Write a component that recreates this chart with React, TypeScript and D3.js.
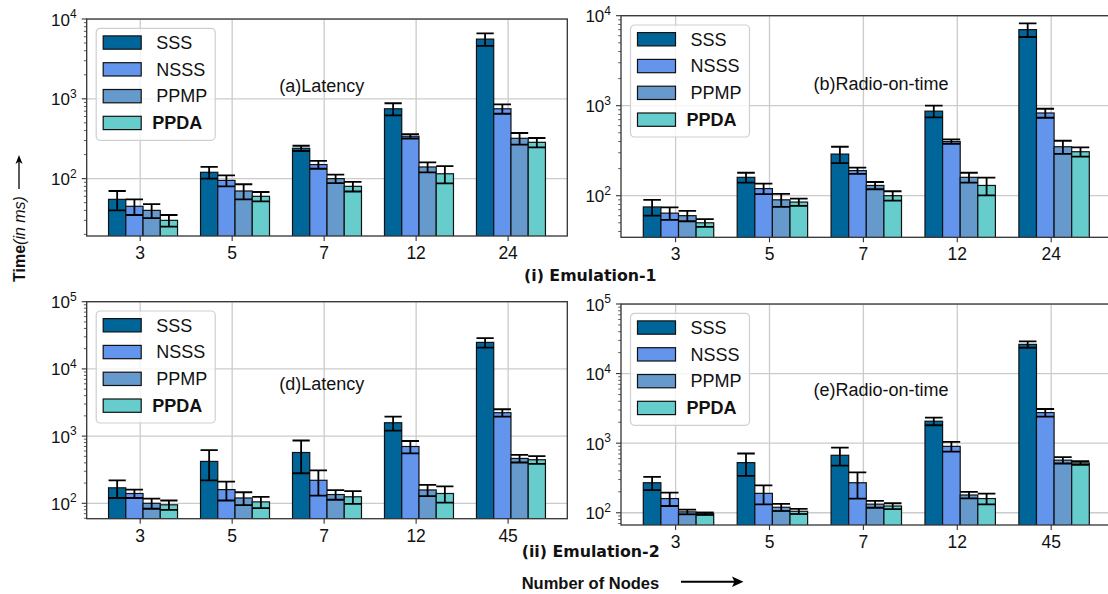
import * as d3 from 'd3';
import React, { useRef, useEffect } from 'react';

// series + colours
const seriesNames = ['SSS', 'NSSS', 'PPMP', 'PPDA'];
const seriesColors = ['#006699', '#6495ED', '#6699CC', '#66CDCC'];

// number of nodes per emulation
const nodesEmu1 = ['3', '5', '7', '12', '24'];
const nodesEmu2 = ['3', '5', '7', '12', '45'];

// (a) latency, emulation-1 (rows: SSS, NSSS, PPMP, PPDA)
const latencyEmu1 = [
    [55, 120, 240, 750, 5600],
    [45, 95, 150, 340, 750],
    [40, 70, 100, 140, 320],
    [30, 60, 80, 115, 285],
];
const latencyEmu1Err = [
    [15, 20, 18, 130, 1000],
    [10, 15, 17, 22, 100],
    [8, 15, 12, 20, 53],
    [5, 8, 11, 28, 38],
];

// (b) radio-on-time, emulation-1
const radioEmu1 = [
    [75, 160, 290, 870, 7000],
    [64, 120, 190, 400, 830],
    [60, 90, 130, 160, 350],
    [50, 85, 100, 130, 308],
];
const radioEmu1Err = [
    [15, 20, 60, 130, 1200],
    [10, 16, 15, 22, 95],
    [8, 15, 12, 20, 58],
    [5, 8, 12, 29, 36],
];

// (d) latency, emulation-2
const latencyEmu2 = [
    [170, 420, 570, 1580, 24800],
    [140, 160, 220, 700, 2230],
    [100, 120, 135, 158, 465],
    [95, 105, 125, 140, 445],
];
const latencyEmu2Err = [
    [50, 200, 290, 370, 4000],
    [20, 50, 90, 145, 280],
    [17, 26, 22, 30, 60],
    [15, 20, 27, 38, 58],
];

// (e) radio-on-time, emulation-2
const radioEmu2 = [
    [270, 525, 670, 2070, 26300],
    [160, 190, 270, 900, 2750],
    [103, 120, 133, 180, 570],
    [97, 105, 125, 160, 520],
];
const radioEmu2Err = [
    [58, 185, 195, 260, 2800],
    [35, 58, 110, 145, 350],
    [8, 14, 15, 19, 60],
    [4, 9, 12, 28, 30],
];

const W = 1108;
const H = 594;
const SANS = '"Liberation Sans", Arial, Helvetica, sans-serif';

interface Panel {
    id: string;
    title: string;
    cats: string[];
    means: number[][];
    errs: number[][];
    x0: number; x1: number;
    yTop: number; yBot: number;
    yMin: number; yMax: number;
    titleFrac: number;
}

const panels: Panel[] = [
    { id: 'a', title: '(a)Latency', cats: nodesEmu1, means: latencyEmu1, errs: latencyEmu1Err,
      x0: 86.7, x1: 567.3, yTop: 19, yBot: 236, yMin: 19.1, yMax: 1e4, titleFrac: 0.305 },
    { id: 'b', title: '(b)Radio-on-time', cats: nodesEmu1, means: radioEmu1, errs: radioEmu1Err,
      x0: 621, x1: 1111.6, yTop: 15.7, yBot: 237.3, yMin: 34.5, yMax: 1e4, titleFrac: 0.308 },
    { id: 'd', title: '(d)Latency', cats: nodesEmu2, means: latencyEmu2, errs: latencyEmu2Err,
      x0: 86.7, x1: 567.3, yTop: 301.7, yBot: 518.7, yMin: 59, yMax: 1e5, titleFrac: 0.379 },
    { id: 'e', title: '(e)Radio-on-time', cats: nodesEmu2, means: radioEmu2, errs: radioEmu2Err,
      x0: 621, x1: 1111.6, yTop: 304, yBot: 525, yMin: 66.7, yMax: 1e5, titleFrac: 0.385 },
];

const BAR_W = 0.1875;
const GROUP_OFF = -0.344;

function drawPanel(svg: d3.Selection<SVGSVGElement, unknown, null, undefined>, p: Panel) {
    const x = d3.scaleLinear().domain([-0.5815, 4.6435]).range([p.x0, p.x1]);
    const y = d3.scaleLog().domain([p.yMin, p.yMax]).range([p.yBot, p.yTop]);

    const clipId = `clip-${p.id}`;
    svg.append('clipPath').attr('id', clipId)
        .append('rect')
        .attr('x', p.x0).attr('y', p.yTop)
        .attr('width', p.x1 - p.x0).attr('height', p.yBot - p.yTop);

    const g = svg.append('g');
    const plot = g.append('g').attr('clip-path', `url(#${clipId})`);

    const loE = Math.ceil(Math.log10(p.yMin));
    const hiE = Math.floor(Math.log10(p.yMax));
    const decades = d3.range(loE, hiE + 1).map(e => Math.pow(10, e));
    const minors: number[] = [];
    d3.range(loE - 1, hiE + 1).forEach(e => {
        for (let k = 2; k <= 9; k++) {
            const v = k * Math.pow(10, e);
            if (v >= p.yMin && v <= p.yMax) minors.push(v);
        }
    });

    // grid
    plot.selectAll(null).data(decades).join('line')
        .attr('x1', p.x0).attr('x2', p.x1)
        .attr('y1', d => y(d)).attr('y2', d => y(d))
        .attr('stroke', '#cbcbcb').attr('stroke-width', 1.3);
    plot.selectAll(null).data(p.cats).join('line')
        .attr('x1', (_, i) => x(i)).attr('x2', (_, i) => x(i))
        .attr('y1', p.yTop).attr('y2', p.yBot)
        .attr('stroke', '#cbcbcb').attr('stroke-width', 1.3);

    // bars
    const bw = x(BAR_W) - x(0);
    p.means.forEach((row, si) => {
        plot.selectAll(null).data(row).join('rect')
            .attr('x', (_, i) => x(i + GROUP_OFF + si * BAR_W))
            .attr('y', d => y(d))
            .attr('width', bw)
            .attr('height', d => p.yBot + 2 - y(d))
            .attr('fill', seriesColors[si])
            .attr('stroke', '#111')
            .attr('stroke-width', 1.2);
    });

    // error bars
    p.means.forEach((row, si) => {
        const eg = plot.append('g').attr('stroke', '#000').attr('stroke-width', 1.8);
        row.forEach((v, i) => {
            const cx = x(i + GROUP_OFF + (si + 0.5) * BAR_W);
            const e = p.errs[si][i];
            const yHi = y(v + e);
            const yLo = y(Math.max(v - e, p.yMin * 0.5));
            const cap = bw / 2;
            eg.append('line').attr('x1', cx).attr('x2', cx).attr('y1', yHi).attr('y2', yLo);
            eg.append('line').attr('x1', cx - cap).attr('x2', cx + cap).attr('y1', yHi).attr('y2', yHi);
            eg.append('line').attr('x1', cx - cap).attr('x2', cx + cap).attr('y1', yLo).attr('y2', yLo);
        });
    });

    // frame
    g.append('rect')
        .attr('x', p.x0).attr('y', p.yTop)
        .attr('width', p.x1 - p.x0).attr('height', p.yBot - p.yTop)
        .attr('fill', 'none').attr('stroke', '#333').attr('stroke-width', 1.3);

    // y ticks
    g.selectAll(null).data(decades).join('line')
        .attr('x1', p.x0 - 5).attr('x2', p.x0)
        .attr('y1', d => y(d)).attr('y2', d => y(d))
        .attr('stroke', '#333').attr('stroke-width', 1.1);
    g.selectAll(null).data(minors).join('line')
        .attr('x1', p.x0 - 2.8).attr('x2', p.x0)
        .attr('y1', d => y(d)).attr('y2', d => y(d))
        .attr('stroke', '#333').attr('stroke-width', 0.8);
    const yl = g.selectAll(null).data(decades).join('text')
        .attr('x', p.x0 - 10)
        .attr('y', d => y(d) + 6.5)
        .attr('text-anchor', 'end')
        .attr('font-family', SANS)
        .attr('font-size', 17)
        .attr('fill', '#111');
    yl.append('tspan').text('10');
    yl.append('tspan').attr('dy', -7.5).attr('font-size', 12).text(d => String(Math.round(Math.log10(d))));

    // x ticks
    g.selectAll(null).data(p.cats).join('line')
        .attr('x1', (_, i) => x(i)).attr('x2', (_, i) => x(i))
        .attr('y1', p.yBot).attr('y2', p.yBot + 5)
        .attr('stroke', '#333').attr('stroke-width', 1.1);
    g.selectAll(null).data(p.cats).join('text')
        .attr('x', (_, i) => x(i))
        .attr('y', p.yBot + 23)
        .attr('text-anchor', 'middle')
        .attr('font-family', SANS)
        .attr('font-size', 17.5)
        .attr('fill', '#111')
        .text(d => d);

    // panel title
    g.append('text')
        .attr('x', p.x0 + 192.5)
        .attr('y', p.yTop + p.titleFrac * (p.yBot - p.yTop) + 6.5)
        .attr('font-family', SANS)
        .attr('font-size', 18)
        .attr('fill', '#111')
        .text(p.title);

    // legend
    const lg = g.append('g').attr('transform', `translate(${p.x0 + 9.5}, ${p.yTop + 9.3})`);
    lg.append('rect')
        .attr('width', 119).attr('height', 112).attr('rx', 4)
        .attr('fill', '#fff').attr('fill-opacity', 0.8)
        .attr('stroke', '#cfcfcf').attr('stroke-width', 1.2);
    seriesNames.forEach((name, si) => {
        const ry = 7.6 + si * 26.8;
        lg.append('rect')
            .attr('x', 7).attr('y', ry).attr('width', 38).attr('height', 13.3)
            .attr('fill', seriesColors[si]).attr('stroke', '#111').attr('stroke-width', 1.2);
        lg.append('text')
            .attr('x', name === 'PPDA' ? 56 : 60)
            .attr('y', ry + 13)
            .attr('font-family', SANS)
            .attr('font-size', 18)
            .attr('font-weight', name === 'PPDA' ? 'bold' : 'normal')
            .attr('fill', '#111')
            .text(name);
    });
}

const App: React.FC = () => {
    const svgRef = useRef<SVGSVGElement | null>(null);

    useEffect(() => {
        document.body.style.margin = '0';
        const svg = d3.select(svgRef.current!)
            .attr('width', W)
            .attr('height', H);
        svg.selectAll('*').remove();

        svg.append('rect').attr('width', W).attr('height', H).attr('fill', '#fff');

        panels.forEach(p => drawPanel(svg, p));

        // section captions
        svg.append('text')
            .attr('x', 524).attr('y', 281)
            .attr('font-family', '"DejaVu Sans", Verdana, sans-serif')
            .attr('font-weight', 'bold').attr('font-size', 15.8)
            .attr('fill', '#111')
            .text('(i) Emulation-1');
        svg.append('text')
            .attr('x', 521.7).attr('y', 556.5)
            .attr('font-family', '"DejaVu Sans", Verdana, sans-serif')
            .attr('font-weight', 'bold').attr('font-size', 15.8)
            .attr('fill', '#111')
            .text('(ii) Emulation-2');

        // x label with arrow
        svg.append('text')
            .attr('x', 521.7).attr('y', 589)
            .attr('font-family', SANS)
            .attr('font-weight', 'bold').attr('font-size', 16.5)
            .attr('fill', '#111')
            .text('Number of Nodes');
        svg.append('line')
            .attr('x1', 681).attr('x2', 736).attr('y1', 581.7).attr('y2', 581.7)
            .attr('stroke', '#000').attr('stroke-width', 2);
        svg.append('path')
            .attr('d', 'M743.5,581.7 L732,576.5 L734.5,581.7 L732,586.9 Z')
            .attr('fill', '#000');

        // y label with arrow
        const yBase = 282;
        const ylab = svg.append('text')
            .attr('transform', `translate(25, ${yBase}) rotate(-90)`)
            .attr('font-family', SANS)
            .attr('font-size', 16)
            .attr('fill', '#111');
        ylab.append('tspan').attr('font-weight', 'bold').text('Time');
        ylab.append('tspan').attr('font-style', 'italic').text('(in ms)');
        const len = (ylab.node() as SVGTextElement).getComputedTextLength();
        const a0 = yBase - len - 7;
        const a1 = a0 - 34;
        svg.append('line')
            .attr('x1', 19).attr('x2', 19).attr('y1', a0).attr('y2', a1 + 6)
            .attr('stroke', '#000').attr('stroke-width', 1.3);
        svg.append('path')
            .attr('d', `M19,${a1} L15.5,${a1 + 9} L19,${a1 + 6.5} L22.5,${a1 + 9} Z`)
            .attr('fill', '#000');
    }, []);

    return (
        <div style={{ position: 'absolute', left: 0, top: 0, width: W, height: H, overflow: 'hidden' }}>
            <svg ref={svgRef}></svg>
        </div>
    );
};

export default App;
